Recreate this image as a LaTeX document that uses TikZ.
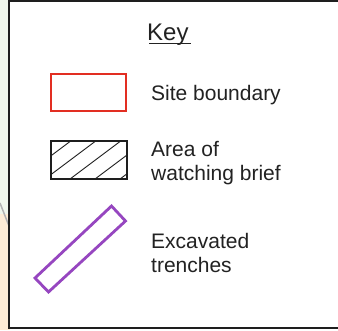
\documentclass[tikz,border=0pt]{standalone}
\usepackage{fontspec}
\setmainfont{Liberation Sans}
\definecolor{framegrey}{RGB}{30,30,30}
\definecolor{textgrey}{RGB}{34,34,34}
\definecolor{siteRed}{RGB}{226,46,34}
\definecolor{trenchPurple}{RGB}{150,70,192}
\definecolor{mapGreen}{RGB}{240,247,236}
\definecolor{mapPeach}{RGB}{253,236,214}
\tikzset{
  keytext/.style={anchor=base west, inner sep=0pt, text=textgrey, font=\fontsize{21}{24}\selectfont, align=left},
  keytitle/.style={anchor=base west, inner sep=0pt, text=textgrey, font=\fontsize{24}{28}\selectfont},
  siteswatch/.style={draw=siteRed, line width=2.4pt},
  watchswatch/.style={draw=framegrey, line width=2.4pt},
  hatchline/.style={draw=framegrey, line width=0.9pt},
  trenchswatch/.style={draw=trenchPurple, line width=2.8pt, line join=miter},
}
\begin{document}
\begin{tikzpicture}[x=1pt,y=-1pt]
\useasboundingbox (0,0) rectangle (338,330);
% map background strip on the left
\fill[mapGreen] (0,0) rectangle (10,214);
\fill[mapPeach] (0,214) rectangle (10,330);
\draw[gray!60, line width=1.5pt] (0,203) -- (9,226);
% key panel
\fill[white] (9,1) rectangle (345,328);
\begin{scope}
\clip (0,0) rectangle (338,330);
\draw[framegrey, line width=2.4pt] (9,1) rectangle (348,328);
\end{scope}
% title
\node[keytitle] (key) at (147,40) {Key};
\draw[textgrey, line width=1.4pt] (149,43.2) -- (191,43.2);
% site boundary
\draw[siteswatch] (51,74) rectangle (126,111);
\node[keytext] (site) at (151,100.5) {Site boundary};
% watching brief
\begin{scope}
\clip (51,141) rectangle (127,179);
\foreach \xz in {-5,20,45,70,95,120,145} {
  \draw[hatchline] (\xz,179) -- ++(80,-60);
}
\end{scope}
\draw[watchswatch] (51,141) rectangle (127,179);
\node[keytext] (watch) at (151,180.7) {Area of\\watching brief};
% trenches
\draw[trenchswatch] (111.5,206) -- (125.5,221) -- (48.5,292) -- (35,278) -- cycle;
\node[keytext] (trench) at (151,272.7) {Excavated\\trenches};
\end{tikzpicture}
\end{document}
